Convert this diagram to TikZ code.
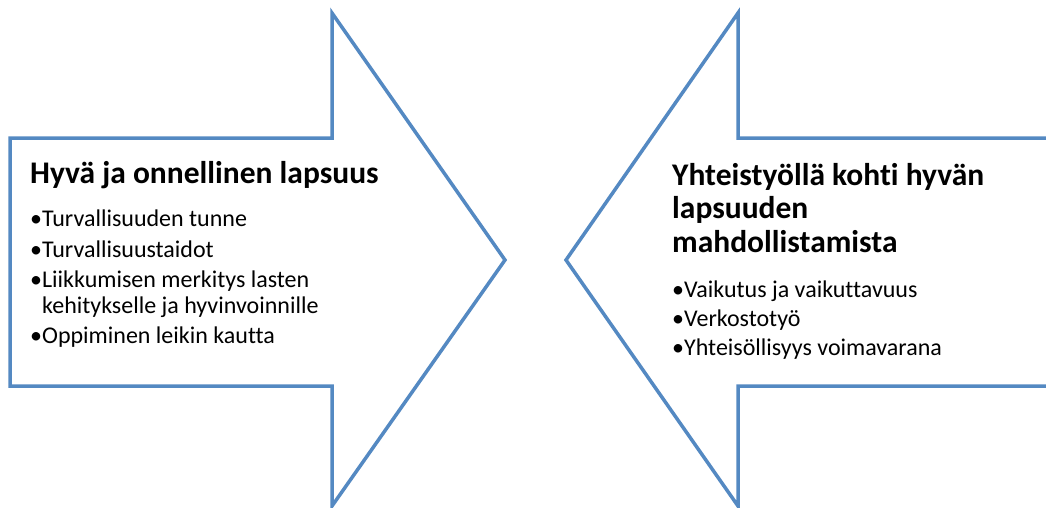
\documentclass[tikz,border=0pt]{standalone}
\usepackage{fontspec}
\setmainfont[Ligatures=NoCommon]{Carlito}
\definecolor{arrowblue}{RGB}{84,137,194}
\begin{document}
\begin{tikzpicture}[x=1pt,y=-1pt,
  outline/.style={draw=arrowblue,line width=3.5pt,line join=miter},
  titletext/.style={anchor=base west,inner sep=0pt,font=\bfseries\fontsize{31.5}{36}\selectfont},
  itemtext/.style={anchor=base west,inner sep=0pt,font=\fontsize{24}{28}\selectfont}]
\useasboundingbox (0,0) rectangle (1046,508);
\clip (0,0) rectangle (1046,508);
% left arrow
\draw[outline] (10,138) -- (332,138) -- (332,13) -- (505,260) -- (332,506) -- (332,386) -- (10,386) -- cycle;
% right arrow
\draw[outline] (1060,138) -- (738,138) -- (738,13) -- (566,260) -- (738,506) -- (738,386) -- (1060,386) -- cycle;
% left text
\node[titletext] (lt) at (30,183) {Hyvä ja onnellinen lapsuus};
\node[itemtext] (l1) at (30,226) {•Turvallisuuden tunne};
\node[itemtext] (l2) at (30,257) {•Turvallisuustaidot};
\node[itemtext] (l3) at (30,287) {•Liikkumisen merkitys lasten};
\node[itemtext] (l3b) at (30,313) {\phantom{•}kehitykselle ja hyvinvoinnille};
\node[itemtext] (l4) at (30,343) {•Oppiminen leikin kautta};
% right text
\node[titletext] (rt1) at (672,185) {Yhteistyöllä kohti hyvän};
\node[titletext] (rt2) at (672,218) {lapsuuden};
\node[titletext] (rt3) at (672,252) {mahdollistamista};
\node[itemtext] (r1) at (672,297) {•Vaikutus ja vaikuttavuus};
\node[itemtext] (r2) at (672,326) {•Verkostotyö};
\node[itemtext] (r3) at (672,355) {•Yhteisöllisyys voimavarana};
\end{tikzpicture}
\end{document}
